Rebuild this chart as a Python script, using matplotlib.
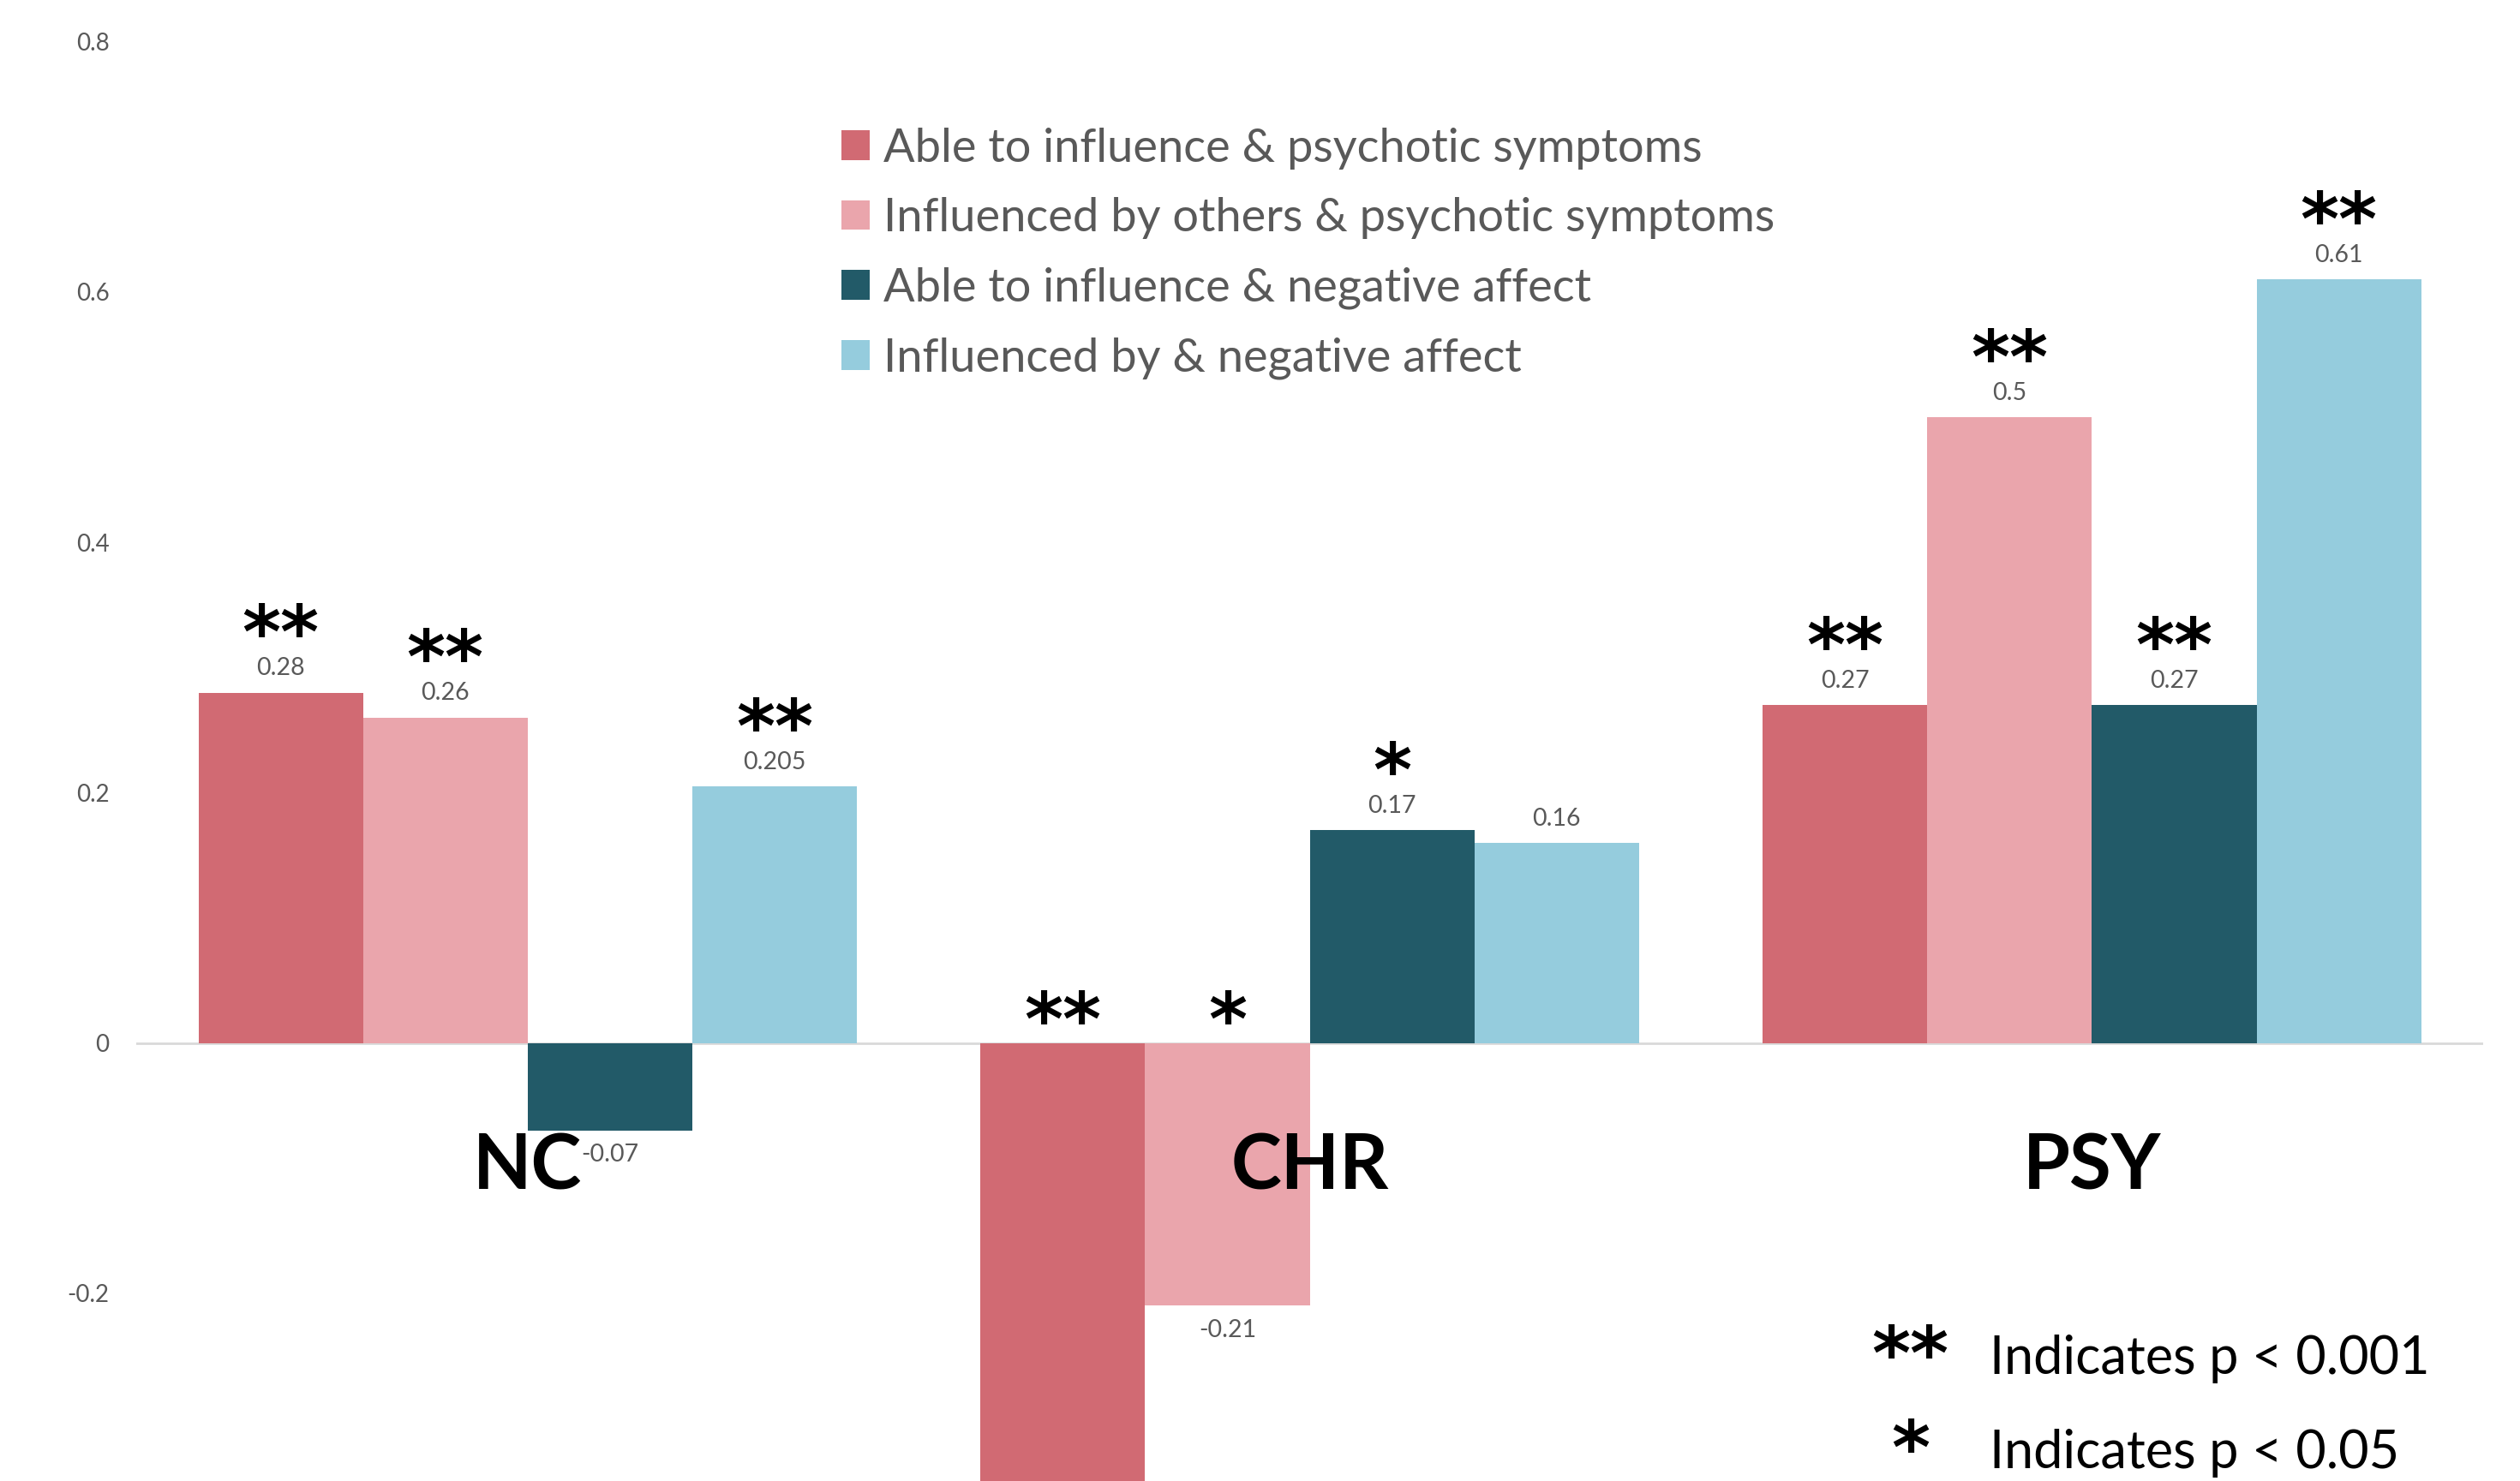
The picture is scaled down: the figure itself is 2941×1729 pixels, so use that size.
import numpy as np
import matplotlib
matplotlib.use("Agg")
import matplotlib.pyplot as plt

groups = ["NC", "CHR", "PSY"]
series_names = ["Able to influence & psychotic symptoms",
                "Influenced by others & psychotic symptoms",
                "Able to influence & negative affect",
                "Influenced by & negative affect"]
able_psych = [0.28, -0.36, 0.27]
infl_psych = [0.26, -0.21, 0.5]
able_neg = [-0.07, 0.17, 0.27]
infl_neg = [0.205, 0.16, 0.61]
sig_able_psych = ["**", "**", "**"]
sig_infl_psych = ["**", "*", "**"]
sig_able_neg = ["", "*", "**"]
sig_infl_neg = ["**", "", "**"]
yticks = [-0.2, 0, 0.2, 0.4, 0.6, 0.8]
key_marks = ["**", "*"]
key_texts = ["Indicates p < 0.001", "Indicates p < 0.05"]

colors = ["#D16A73", "#EAA5AC", "#225A68", "#95CCDD"]
grey = "#595959"
font = "Lato"
plt.rcParams['font.family'] = [font, 'DejaVu Sans']

fig = plt.figure(figsize=(29.41, 17.29), dpi=100)
ax = fig.add_axes([0.0542, 0.0, 0.9311, 0.9718])

x = np.arange(len(groups))
w = 0.2105
values = [able_psych, infl_psych, able_neg, infl_neg]
sigs = [sig_able_psych, sig_infl_psych, sig_able_neg, sig_infl_neg]

for i, (vals, col, name) in enumerate(zip(values, colors, series_names)):
    b = ax.bar(x + (i - 1.5) * w, vals, w, color=col, label=name, zorder=2)
    # labels of bars running past the bottom edge get clipped with the bar
    ax.bar_label(b, labels=["%g" % v for v in vals], padding=11,
                 fontsize=20.5, color=grey)
    for xi, v, s in zip(x + (i - 1.5) * w, vals, sigs[i]):
        if not s:
            continue
        off = 29 if v > 0 else -2
        ax.annotate(s, (xi, max(v, 0)), xytext=(0, off), textcoords="offset points",
                    ha="center", va="baseline", fontsize=62, fontweight="bold",
                    color="black", family="DejaVu Sans")

ax.axhline(0, color="#D9D9D9", lw=2, zorder=1)

ax.set_xlim(-0.5, 2.5)
ax.set_ylim(-0.35, 0.8)
ax.set_yticks(yticks)
ax.set_yticklabels(["%g" % t for t in yticks])
ax.tick_params(axis="y", length=0, pad=23, labelsize=20, labelcolor=grey)
ax.set_xticks([])
for sp in ax.spines.values():
    sp.set_visible(False)

for xi, g in zip(x, groups):
    ax.text(xi, -0.099, g, ha="center", va="center", fontsize=64,
            fontweight="bold", color="black")

ax.legend(loc="upper left", bbox_to_anchor=(0.334, 0.914),
          bbox_transform=fig.transFigure, frameon=False, fontsize=39,
          labelcolor=grey, handlelength=0.6, handleheight=0.6,
          handletextpad=0.3, labelspacing=0.6, borderpad=0, borderaxespad=0)

for yk, m, t in zip([0.0825, 0.019], key_marks, key_texts):
    fig.text(0.758, yk, m, ha="center", va="center", fontsize=62,
             fontweight="bold", color="black", family="DejaVu Sans")
    fig.text(0.7895, yk, t, ha="left", va="center", fontsize=44, color="black")

fig.savefig("out.png", dpi=100)
